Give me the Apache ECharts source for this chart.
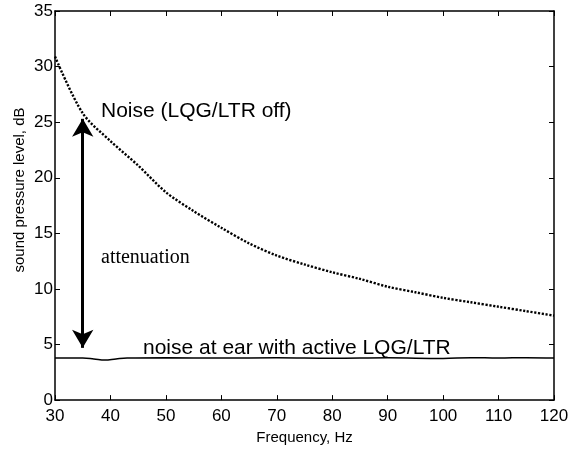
<!DOCTYPE html>
<html>
<head>
<meta charset="utf-8">
<script src="https://cdn.jsdelivr.net/npm/echarts@6/dist/echarts.min.js"></script>
<style>
  html, body { margin: 0; padding: 0; background: #fff; }
  #chart { width: 580px; height: 450px; }
</style>
</head>
<body>
<div id="chart"></div>
<script>
// Noise spectrum without control (dotted curve)
const offFreq = [30, 35, 40, 45, 50, 55, 60, 65, 70, 75, 80, 85, 90, 95, 100, 105, 110, 115, 120];
const offLevel = [30.9, 25.8, 23.3, 21.1, 18.7, 17.0, 15.5, 14.1, 13.0, 12.2, 11.5, 10.9, 10.2, 9.7, 9.2, 8.8, 8.4, 8.0, 7.6];

// Noise at ear with active control (solid line)
const onFreq = [30, 35, 37, 39, 41, 43, 50, 60, 70, 80, 90, 100, 105, 110, 115, 120];
const onLevel = [3.78, 3.78, 3.7, 3.6, 3.7, 3.78, 3.8, 3.78, 3.8, 3.76, 3.8, 3.75, 3.82, 3.78, 3.82, 3.78];

// attenuation arrow, from the curve down to the controlled level
const arrowFreq = 35;
const arrowTop = 25.3;
const arrowBottom = 4.7;

const xTicks = { min: 30, max: 120, step: 10 };
const yTicks = { min: 0, max: 35, step: 5 };

const pair = (xs, ys) => xs.map((x, i) => [x, ys[i]]);

const chart = echarts.init(document.getElementById("chart"));

const tickStyle = { show: true, inside: true, length: 5, lineStyle: { color: "#000", width: 1 } };
const boxLine = { show: true, onZero: false, lineStyle: { color: "#000", width: 1.5 } };

const option = {
  animation: false,
  grid: { left: 55, right: 26, top: 11, bottom: 46, containLabel: false },
  xAxis: [
    {
      type: "value",
      min: xTicks.min,
      max: xTicks.max,
      interval: xTicks.step,
      name: "Frequency, Hz",
      nameLocation: "middle",
      nameGap: 26,
      nameTextStyle: { fontFamily: "Liberation Sans", fontSize: 15, color: "#000" },
      axisLine: boxLine,
      axisTick: tickStyle,
      axisLabel: { fontFamily: "Liberation Sans", fontSize: 17, color: "#000", margin: 8 },
      splitLine: { show: false },
    },
    {
      type: "value",
      position: "top",
      min: xTicks.min,
      max: xTicks.max,
      interval: xTicks.step,
      axisLine: boxLine,
      axisTick: tickStyle,
      axisLabel: { show: false },
      splitLine: { show: false },
    },
  ],
  yAxis: [
    {
      type: "value",
      min: yTicks.min,
      max: yTicks.max,
      interval: yTicks.step,
      axisLine: boxLine,
      axisTick: tickStyle,
      axisLabel: { fontFamily: "Liberation Sans", fontSize: 17, color: "#000", margin: 2 },
      splitLine: { show: false },
    },
    {
      type: "value",
      position: "right",
      min: yTicks.min,
      max: yTicks.max,
      interval: yTicks.step,
      axisLine: boxLine,
      axisTick: tickStyle,
      axisLabel: { show: false },
      splitLine: { show: false },
    },
  ],
  graphic: [
    {
      type: "text",
      x: 20,
      y: 190,
      rotation: Math.PI / 2,
      style: {
        text: "sound pressure level, dB",
        fontFamily: "Liberation Sans",
        fontSize: 15,
        fill: "#000",
        align: "center",
        verticalAlign: "middle",
      },
    },
    {
      type: "text",
      x: 101,
      y: 111,
      style: {
        text: "Noise (LQG/LTR off)",
        fontFamily: "Liberation Sans",
        fontSize: 21,
        fill: "#000",
        verticalAlign: "middle",
      },
    },
    {
      type: "text",
      x: 101,
      y: 258,
      style: {
        text: "attenuation",
        fontFamily: "Liberation Serif",
        fontSize: 20,
        fill: "#000",
        verticalAlign: "middle",
      },
    },
    {
      type: "text",
      x: 143,
      y: 348,
      style: {
        text: "noise at ear with active LQG/LTR",
        fontFamily: "Liberation Sans",
        fontSize: 21,
        fill: "#000",
        verticalAlign: "middle",
      },
    },
  ],
  series: [
    {
      type: "line",
      data: pair(offFreq, offLevel),
      smooth: 0.3,
      showSymbol: false,
      lineStyle: { color: "#000", width: 2.4, type: [2.2, 1.6], cap: "butt" },
      markLine: {
        silent: true,
        symbol: ["arrow", "arrow"],
        symbolSize: [16, 18],
        label: { show: false },
        lineStyle: { color: "#000", width: 3, type: "solid" },
        data: [[{ coord: [arrowFreq, arrowTop] }, { coord: [arrowFreq, arrowBottom] }]],
      },
    },
    {
      type: "line",
      data: pair(onFreq, onLevel),
      smooth: 0.4,
      showSymbol: false,
      lineStyle: { color: "#000", width: 1.5 },
    },
  ],
};

chart.setOption(option);
</script>
</body>
</html>
